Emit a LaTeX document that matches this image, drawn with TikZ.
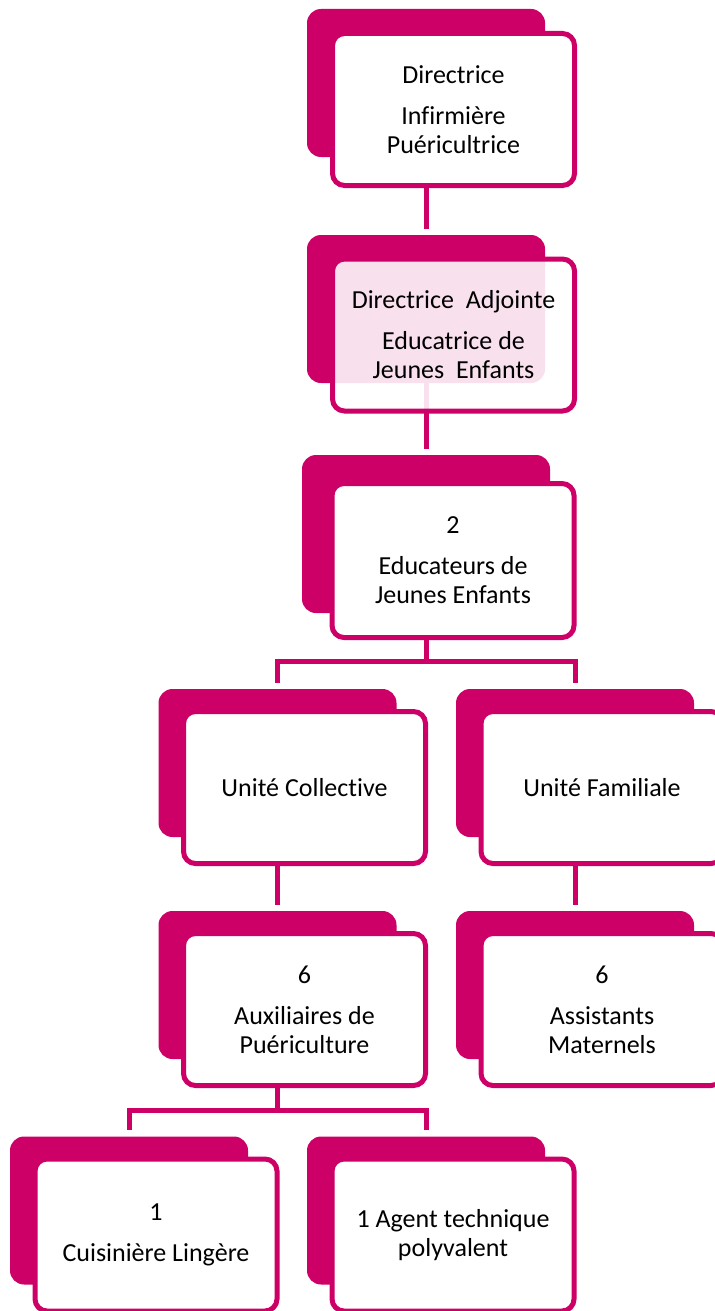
\documentclass[tikz,border=0pt]{standalone}
\usepackage{fontspec}
\setmainfont{Carlito}[Ligatures=NoCommon]
\usepackage{tikz}
\definecolor{orgpink}{RGB}{204,0,102}

\begin{document}
\begin{tikzpicture}[x=0.5pt, y=-0.5pt,
backbox/.style={rectangle, fill=orgpink, rounded corners=7pt, minimum width=119pt, minimum height=74pt, inner sep=0pt},
frontbox/.style={rectangle, draw=orgpink, line width=2.5pt, fill=white, rounded corners=6pt, minimum width=121pt, minimum height=76pt, inner sep=2pt, align=center, font=\fontsize{13pt}{14.5pt}\selectfont},
link/.style={draw=orgpink, line width=2.5pt},
spaced/.style={shorten >=3pt}
]
\useasboundingbox (0,0) rectangle (715,1311);

% back boxes
\node (b1) [backbox] at (426,83) {};
\node (b2) [backbox] at (426,309) {};
\node (b3) [backbox, minimum width=124pt, minimum height=79pt] at (426,534) {};
\node (b4) [backbox] at (277.5,763) {};
\node (b5) [backbox] at (575,763) {};
\node (b6) [backbox] at (277.5,985) {};
\node (b7) [backbox] at (575,985) {};
\node (b8) [backbox] at (129,1210.5) {};
\node (b9) [backbox] at (426,1210.5) {};

\coordinate (split1) at (426,661);
\coordinate (split2) at (277.5,1110);

% connectors
\draw [link, spaced] (b1.south) -- (b2.north);
\draw [link, spaced] (b2.south) -- (b3.north);
\draw [link] (b3.south) -- (split1);
\draw [link, spaced, shorten <=3pt] (b4.north) |- (split1) -| (b5.north);
\draw [link, spaced] (b4.south) -- (b6.north);
\draw [link, spaced] (b5.south) -- (b7.north);
\draw [link] (b6.south) -- (split2);
\draw [link, spaced, shorten <=3pt] (b8.north) |- (split2) -| (b9.north);

% front boxes
\node (f1) [frontbox] at ([shift={(27.5,26.5)}]b1) {Directrice\\[6pt] Infirmière\\Puéricultrice};
\node (f2) [frontbox, fill opacity=0.88, text opacity=1] at ([shift={(27.5,26)}]b2) {Directrice\ \ Adjointe\\[6pt] Educatrice de\\Jeunes\ \ Enfants};
\node (f3) [frontbox, minimum height=77pt] at ([shift={(27,26.5)}]b3) {2\\[6pt] Educateurs de\\Jeunes Enfants};
\node (f4) [frontbox] at ([shift={(27,24.5)}]b4) {Unité Collective};
\node (f5) [frontbox] at ([shift={(27,24.5)}]b5) {Unité Familiale};
\node (f6) [frontbox] at ([shift={(27,24.5)}]b6) {6\\[6pt] Auxiliaires de\\Puériculture};
\node (f7) [frontbox] at ([shift={(27,24.5)}]b7) {6\\[6pt] Assistants\\Maternels};
\node (f8) [frontbox] at ([shift={(27,24.5)}]b8) {1\\[6pt] Cuisinière Lingère};
\node (f9) [frontbox] at ([shift={(27,24.5)}]b9) {1 Agent technique\\polyvalent};
\end{tikzpicture}
\end{document}
